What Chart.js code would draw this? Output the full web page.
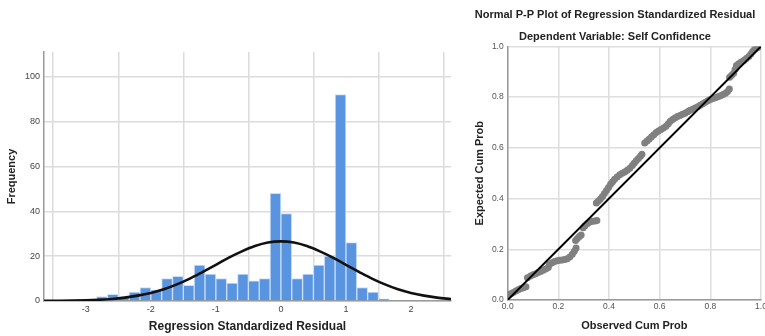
<!DOCTYPE html>
<html><head><meta charset="utf-8">
<script src="https://cdn.jsdelivr.net/npm/chart.js@4.4.0/dist/chart.umd.min.js"></script>
<style>
html,body{margin:0;padding:0;background:#fff;overflow:hidden;width:765px;height:336px}
#c1{position:absolute;left:0;top:0}
#c2{position:absolute;left:458px;top:0}
</style></head><body>
<canvas id="c1" width="455" height="336"></canvas>
<canvas id="c2" width="307" height="336"></canvas>
<script>
// ---- Histogram data (bin centers, width 1/6) ----
const binCenters = [-2.75,-2.5833,-2.4167,-2.25,-2.0833,-1.9167,-1.75,-1.5833,-1.4167,-1.25,-1.0833,
  -0.9167,-0.75,-0.5833,-0.4167,-0.25,-0.0833,0.0833,0.25,0.4167,0.5833,0.75,0.9167,1.0833,1.25,1.4167,1.5833];
const frequencies = [2,3,2,4,6,5,10,11,7,16,12,10,8,12,9,10,48,39,10,12,16,20,92,26,6,4,1];
// ---- Normal curve ----
const curveX = [-3.64,-3.4,-3.2,-3.0,-2.8,-2.6,-2.4,-2.2,-2.0,-1.8,-1.6,-1.4,-1.2,-1.0,-0.8,-0.6,-0.4,-0.2,0.0,
  0.2,0.4,0.6,0.8,1.0,1.2,1.4,1.6,1.8,2.0,2.2,2.4,2.62];
const curveY = [0.04,0.08,0.16,0.3,0.54,0.9,1.5,2.4,3.6,5.2,7.4,10.0,13.0,16.1,19.3,22.1,24.5,26.1,26.6,
  26.1,24.5,22.1,19.3,16.1,13.0,10.0,7.4,5.2,3.6,2.4,1.5,0.85];
const histXTicks = [-3,-2,-1,0,1,2];
const histYTicks = [0,20,40,60,80,100];
// ---- P-P plot data ----
const ppObserved = [0.003,0.012,0.022,0.032,0.042,0.052,0.062,0.072,
  0.078,0.09,0.1,0.11,0.12,0.13,0.14,0.15,0.16,
  0.165,0.175,0.185,0.195,0.205,0.215,0.225,0.235,0.245,0.255,0.263,0.27,
  0.268,0.275,0.283,0.29,
  0.298,0.305,0.315,0.325,0.335,0.345,0.352,
  0.35,0.358,0.366,0.374,0.382,0.39,0.398,0.406,0.414,0.422,0.432,0.442,0.452,0.462,0.472,0.482,0.492,0.5,0.508,0.516,0.524,0.53,
  0.541,0.55,0.559,0.568,0.577,0.586,0.595,0.605,0.615,0.625,0.634,0.642,0.651,0.66,0.67,0.68,0.69,0.7,0.71,0.72,0.73,0.74,0.75,0.76,0.77,0.78,0.79,0.8,0.81,0.82,0.83,0.84,0.85,0.86,0.868,0.875,
  0.876,0.884,0.892,0.898,0.903,0.912,0.922,0.932,0.942,0.952,0.96,0.967,0.975,0.984,0.993];
const ppExpected = [0.02,0.025,0.03,0.035,0.04,0.045,0.048,0.052,
  0.088,0.095,0.1,0.104,0.108,0.112,0.117,0.122,0.128,
  0.14,0.147,0.152,0.155,0.157,0.158,0.16,0.163,0.17,0.18,0.192,0.205,
  0.235,0.243,0.25,0.256,
  0.285,0.293,0.302,0.308,0.311,0.312,0.313,
  0.382,0.39,0.398,0.408,0.42,0.432,0.444,0.456,0.466,0.476,0.485,0.494,0.5,0.505,0.512,0.52,0.53,0.54,0.55,0.558,0.567,0.575,
  0.619,0.627,0.635,0.644,0.652,0.66,0.666,0.672,0.678,0.685,0.695,0.705,0.712,0.718,0.724,0.728,0.732,0.736,0.742,0.748,0.752,0.757,0.762,0.768,0.774,0.78,0.786,0.791,0.795,0.798,0.801,0.805,0.81,0.815,0.822,0.832,
  0.878,0.886,0.894,0.91,0.925,0.932,0.938,0.944,0.952,0.96,0.97,0.98,0.988,0.994,0.999];
const ppLine = [[0,0],[1,1]];
const ppTicks = [0,0.2,0.4,0.6,0.8,1.0];

const FONT = 'Arial, "Liberation Sans", sans-serif';
Chart.defaults.font.family = FONT;
Chart.defaults.animation = false;

// ---------- Left: histogram ----------
new Chart(document.getElementById('c1'), {
  type: 'bar',
  data: {
    datasets: [
      { type:'line', data: curveX.map((x,i)=>({x, y: curveY[i]})), borderColor:'#111', borderWidth:2.6,
        pointRadius:0, cubicInterpolationMode:'monotone', fill:false, order:0 },
      { type:'bar', data: binCenters.map((x,i)=>({x, y: frequencies[i]})), backgroundColor:'#5894e0',
        borderColor:'rgba(200,220,245,0.9)', borderWidth:{left:1,right:1,top:1,bottom:0},
        barPercentage:1, categoryPercentage:1, order:1 }
    ]
  },
  options: {
    responsive:false, animation:false,
    layout:{padding:{left:0,right:4,top:52,bottom:0}},
    plugins:{legend:{display:false}, tooltip:{enabled:false}},
    scales:{
      x:{ type:'linear', min:-3.642, max:2.615, offset:false,
        afterBuildTicks: s => { s.ticks = histXTicks.map(v=>({value:v})); },
        ticks:{ font:{size:9}, color:'#444', padding:3, maxRotation:0, autoSkip:false },
        grid:{ color:'#dcdcdc', lineWidth:1.5, drawTicks:false },
        border:{ display:true, color:'#9a9a9a', width:1.5 },
        title:{ display:true, text:'Regression Standardized Residual', font:{size:12, weight:'bold'}, color:'#222', padding:{top:0,bottom:2} },
        afterFit: s => { s.height = 35; s.paddingLeft = 0; s.paddingRight = 0; }
      },
      y:{ min:0, max:111,
        afterBuildTicks: s => { s.ticks = histYTicks.map(v=>({value:v})); },
        ticks:{ font:{size:9}, color:'#444', padding:4 },
        grid:{ color:'#dcdcdc', lineWidth:1.5, drawTicks:false },
        border:{ display:true, color:'#9a9a9a', width:1.5 },
        title:{ display:true, text:'Frequency', font:{size:11, weight:'bold'}, color:'#222', padding:{top:5,bottom:0} },
        afterFit: s => { s.width = 44; }
      }
    }
  }
});

// ---------- Right: P-P plot ----------
new Chart(document.getElementById('c2'), {
  type: 'scatter',
  data: {
    datasets: [
      { type:'line', data: ppLine.map(p=>({x:p[0], y:p[1]})), borderColor:'#000', borderWidth:2, pointRadius:0, fill:false },
      { data: ppObserved.map((x,i)=>({x, y: ppExpected[i]})), backgroundColor:'#808080', borderWidth:0, pointRadius:3.5 }
    ]
  },
  options: {
    responsive:false, animation:false,
    layout:{padding:{left:10,right:3,top:0,bottom:0}},
    plugins:{
      legend:{display:false}, tooltip:{enabled:false},
      title:{ display:true, text:'Normal P-P Plot of Regression Standardized Residual', font:{size:11, weight:'bold'}, color:'#222', padding:{top:8,bottom:4} },
      subtitle:{ display:true, text:'Dependent Variable: Self Confidence', font:{size:11, weight:'bold'}, color:'#222', padding:{top:5,bottom:3} }
    },
    scales:{
      x:{ type:'linear', min:0, max:1,
        afterBuildTicks: s => { s.ticks = ppTicks.map(v=>({value:v})); },
        ticks:{ font:{size:8.5}, color:'#555', padding:2, maxRotation:0, autoSkip:false, callback:v=>v.toFixed(1) },
        grid:{ color:'#dedede', lineWidth:1.5, drawTicks:false },
        border:{ display:true, color:'#9a9a9a', width:1.5 },
        title:{ display:true, text:'Observed Cum Prob', font:{size:11, weight:'bold'}, color:'#222', padding:{top:0,bottom:3} },
        afterFit: s => { s.height = 36; s.paddingLeft = 0; s.paddingRight = 0; }
      },
      y:{ min:0, max:1,
        afterBuildTicks: s => { s.ticks = ppTicks.map(v=>({value:v})); },
        ticks:{ font:{size:8.5}, color:'#555', padding:4, callback:v=>v.toFixed(1) },
        grid:{ color:'#dedede', lineWidth:1.5, drawTicks:false },
        border:{ display:true, color:'#9a9a9a', width:1.5 },
        title:{ display:true, text:'Expected Cum Prob', font:{size:11, weight:'bold'}, color:'#222', padding:{top:5,bottom:0} },
        afterFit: s => { s.width = 39.7; s.paddingTop = 0; s.paddingBottom = 0; }
      }
    }
  }
});
</script>
</body></html>
